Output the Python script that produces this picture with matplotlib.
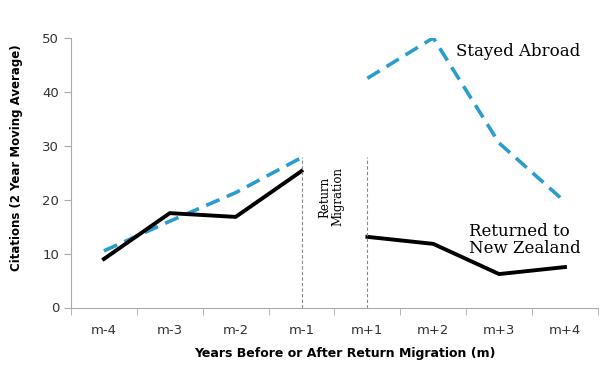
import numpy as np
import matplotlib.pyplot as plt

categories = ['m-4', 'm-3', 'm-2', 'm-1', 'm+1', 'm+2', 'm+3', 'm+4']
returned_before = [9.0, 17.5, 16.8, 25.3]
returned_after = [13.1, 11.8, 6.2, 7.5]
abroad_before = [10.5, 16.0, 21.3, 27.8]
abroad_after = [42.5, 50.0, 30.5, 19.6]

x = np.arange(len(categories))
x_before = x[:4]
x_after = x[4:]

fig = plt.figure(figsize=(6.12, 3.75), dpi=100)
ax = fig.add_axes([0.116, 0.18, 0.861, 0.719])

blue = '#2b9ccf'
ax.plot(x_before, abroad_before, color=blue, lw=2.6, dashes=(4, 2.2))
ax.plot(x_after, abroad_after, color=blue, lw=2.6, dashes=(4, 2.2))
ax.plot(x_before, returned_before, color='black', lw=2.8)
ax.plot(x_after, returned_after, color='black', lw=2.8)

# migration gap markers
ax.plot([x[3], x[3]], [0, 28], color='#888888', lw=0.8, ls=(0, (3, 2)))
ax.plot([x[4], x[4]], [0, 28], color='#888888', lw=0.8, ls=(0, (3, 2)))

serif = 'DejaVu Serif'
ax.text(3.45, 20.5, 'Return\nMigration', rotation=90, ha='center', va='center',
        fontsize=8.5, family=serif, linespacing=1.0)
ax.text(5.35, 47.5, 'Stayed Abroad', fontsize=12, family=serif, va='center')
ax.text(5.55, 12.6, 'Returned to\nNew Zealand', fontsize=12, family=serif,
        va='center', linespacing=1.0)

ax.set_xlim(-0.5, 7.5)
ax.set_ylim(0, 50)
ax.set_yticks(np.arange(0, 51, 10))
ax.set_xticks(x)
ax.set_xticklabels(categories)
ax.set_xticks(np.arange(-0.5, 8, 1), minor=True)
ax.tick_params(axis='x', which='major', length=0, pad=12, labelsize=9.5, colors='#333333')
ax.tick_params(axis='x', which='minor', length=5, color='#aaaaaa')
ax.tick_params(axis='y', length=5, color='#aaaaaa', labelsize=9.5, labelcolor='#333333')

for side in ['top', 'right']:
    ax.spines[side].set_visible(False)
for side in ['left', 'bottom']:
    ax.spines[side].set_color('#aaaaaa')

ax.set_xlabel('Years Before or After Return Migration (m)', fontweight='bold', fontsize=9)
ax.set_ylabel('Citations (2 Year Moving Average)', fontweight='bold', fontsize=8.5)
ax.xaxis.set_label_coords(0.52, -0.145)
ax.yaxis.set_label_coords(-0.092, 0.555)

fig.savefig('out.png', dpi=100)
